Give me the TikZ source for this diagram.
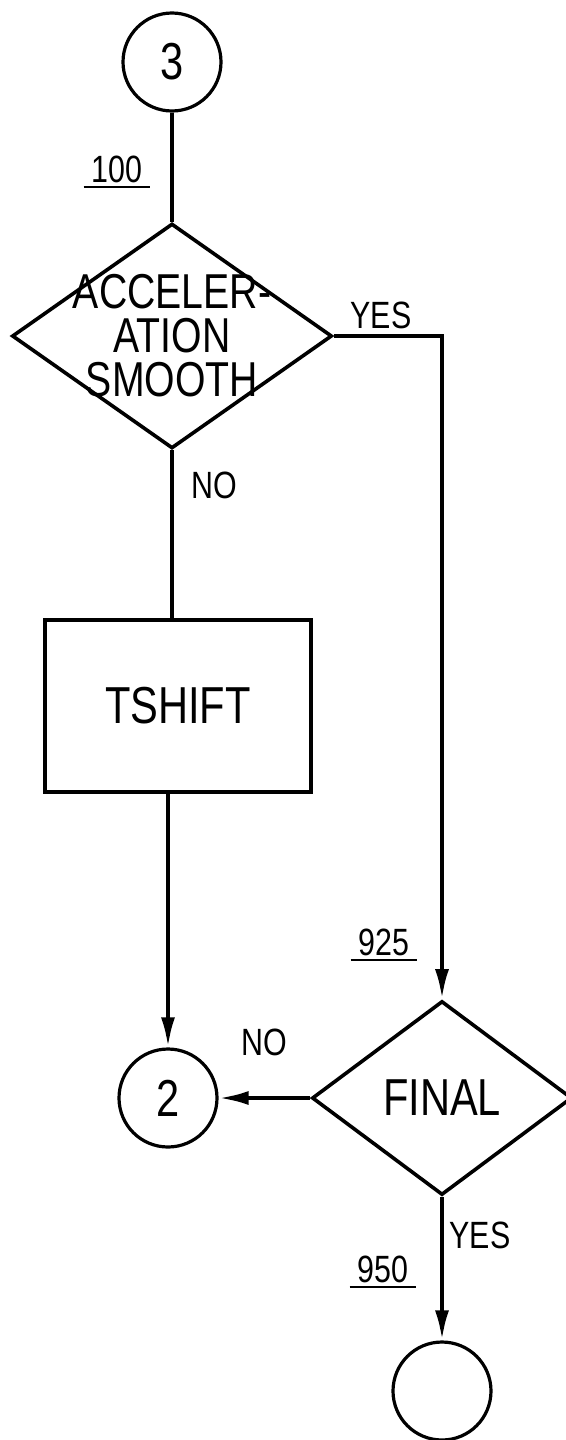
\documentclass[tikz,border=0pt]{standalone}
\usepackage{fontspec}
\newfontfamily\chartfont[FakeStretch=0.8]{Liberation Sans}
\usetikzlibrary{shapes.geometric, arrows.meta}

% step number with a rule under it
\newcommand{\blocknum}[1]{\setbox0\hbox{\hspace{4pt}#1\hspace{4pt}}\hbox{\rlap{\copy0}\rule[-3pt]{\wd0}{1pt}}}

\begin{document}
\begin{tikzpicture}[
        x=1pt, y=1pt,
        >={Latex[length=15pt,width=7pt]},
        box/.style={
            draw,
            line width=1.8pt,
            minimum width=133pt,
            minimum height=86pt,
            align=center,
            font=\chartfont\fontsize{26}{21.5}\selectfont
        },
        decision/.style={
            draw,
            diamond,
            line width=1.8pt,
            inner sep=0pt,
            align=center,
            font=\chartfont\fontsize{26}{21.5}\selectfont
        },
        conn/.style={
            draw,
            circle,
            line width=1.6pt,
            minimum size=49pt,
            inner sep=0pt,
            font=\chartfont\fontsize{26}{26}\selectfont
        },
        link/.style={line width=2pt},
        arr/.style={->, line width=2pt},
        lbl/.style={anchor=base, font=\chartfont\fontsize{19}{19}\selectfont},
        stepno/.style={anchor=base, inner sep=0pt, font=\chartfont\fontsize{19}{19}\selectfont}
    ]
        \useasboundingbox (0,0) rectangle (283,-720);

        \node[conn] (c3) at (86,-31) {3};
        \node[decision, minimum width=160pt, minimum height=112pt, inner sep=-12pt,
            font=\chartfont\fontsize{24.5}{22}\selectfont] (accel) at (86,-168) {ACCELER-\\ATION\\SMOOTH};
        \node[box] (tshift) at (89,-353) {TSHIFT};
        \node[conn] (c2) at (84,-549) {2};
        \node[decision, minimum width=130pt, minimum height=97pt] (final) at (221,-549) {FINAL};
        \node[conn] (cend) at (221,-695.5) {};

        \node[stepno] (n100) at (58.5,-91) {\blocknum{100}};
        \node[stepno] (n925) at (192,-477.5) {\blocknum{925}};
        \node[stepno] (n950) at (191.5,-641) {\blocknum{950}};
        \node[lbl] (yesacc) at (190.5,-164) {YES};
        \node[lbl] (noacc) at (107,-249) {NO};
        \node[lbl] (nofinal) at (132,-527.5) {NO};
        \node[lbl] (yesfinal) at (240,-624) {YES};

        \draw[link] (c3) -- (accel.north);
        \draw[link] (accel.south) -- (accel.south |- tshift.north);
        \draw[arr] (accel.east) -| (final.north);
        \draw[arr] (c2 |- tshift.south) -- (c2.north);
        \draw[arr] (final.west) -- (c2.east);
        \draw[arr] (final.south) -- (cend.north);

    \end{tikzpicture}
\end{document}
